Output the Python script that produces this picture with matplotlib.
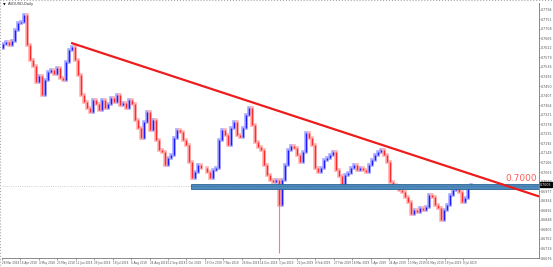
import matplotlib
matplotlib.use('Agg')
import matplotlib.pyplot as plt
import matplotlib.transforms as mtransforms
from matplotlib.patches import Rectangle
import numpy as np

closes = [0.7639, 0.7648, 0.7635, 0.7653, 0.7702, 0.7734, 0.7738, 0.7770, 0.7635, 0.7567,
          0.7540, 0.7468, 0.7495, 0.7410, 0.7477, 0.7513, 0.7522, 0.7504, 0.7531, 0.7486,
          0.7477, 0.7558, 0.7612, 0.7626, 0.7567, 0.7500, 0.7410, 0.7378, 0.7351, 0.7333,
          0.7387, 0.7369, 0.7342, 0.7387, 0.7351, 0.7369, 0.7396, 0.7378, 0.7410, 0.7365,
          0.7374, 0.7351, 0.7387, 0.7369, 0.7297, 0.7261, 0.7216, 0.7288, 0.7333, 0.7252,
          0.7297, 0.7207, 0.7162, 0.7153, 0.7095, 0.7126, 0.7140, 0.7216, 0.7252, 0.7243,
          0.7207, 0.7185, 0.7108, 0.7036, 0.7063, 0.7095, 0.7081, 0.7081, 0.7063, 0.7036,
          0.7072, 0.7081, 0.7207, 0.7252, 0.7230, 0.7185, 0.7261, 0.7288, 0.7230, 0.7221,
          0.7261, 0.7320, 0.7351, 0.7275, 0.7198, 0.7176, 0.7162, 0.7095, 0.7050, 0.7027,
          0.7018, 0.7027, 0.6915, 0.7027, 0.7095, 0.7162, 0.7180, 0.7171, 0.7140, 0.7108,
          0.7153, 0.7239, 0.7216, 0.7185, 0.7081, 0.7063, 0.7081, 0.7117, 0.7126, 0.7140,
          0.7153, 0.7072, 0.7045, 0.7009, 0.7050, 0.7059, 0.7081, 0.7095, 0.7072, 0.7081,
          0.7072, 0.7063, 0.7095, 0.7117, 0.7140, 0.7153, 0.7162, 0.7140, 0.7108, 0.7018,
          0.7005, 0.7000, 0.6982, 0.6973, 0.6951, 0.6928, 0.6874, 0.6892, 0.6883, 0.6901,
          0.6892, 0.6906, 0.6960, 0.6951, 0.6915, 0.6901, 0.6847, 0.6892, 0.6915, 0.6960,
          0.6982, 0.7000, 0.6973, 0.6928, 0.6946, 0.6991, 0.7005]
first_open = 0.7620
crash_index = 92
crash_low = 0.6698

# trendline anchors (bar index, price)
trend_start = (22.7, 0.7644)
trend_end = (178.7, 0.6953)

# support zone
zone_start = 62.7
zone_low = 0.6988
zone_high = 0.7010
level = 0.7000
last_price = 0.7005

date_labels = ['28 Mar 2018', '16 Apr 2018', '4 May 2018', '23 May 2018', '11 Jun 2018',
               '29 Jun 2018', '18 Jul 2018', '6 Aug 2018', '24 Aug 2018', '12 Sep 2018',
               '1 Oct 2018', '19 Oct 2018', '7 Nov 2018', '26 Nov 2018', '14 Dec 2018',
               '3 Jan 2019', '22 Jan 2019', '8 Feb 2019', '27 Feb 2019', '18 Mar 2019',
               '5 Apr 2019', '24 Apr 2019', '13 May 2019', '31 May 2019', '19 Jun 2019',
               '8 Jul 2019']

W, H = 553, 267
fig = plt.figure(figsize=(W / 100, H / 100), dpi=100)
ax = fig.add_axes([2 / W, 9 / H, 537 / W, 255 / H])

c = np.array(closes)
o = np.array([first_open] + closes[:-1])
x = np.arange(len(c))
up = c >= o
lo = np.minimum(o, c)
hi = np.maximum(o, c)

# light halos (shadows) then bodies
ax.vlines(x[up], lo[up], hi[up], color='#a9a9ff', lw=2.6, capstyle='projecting', zorder=2)
ax.vlines(x[~up], lo[~up], hi[~up], color='#ffb0b0', lw=2.6, capstyle='projecting', zorder=2)
ax.vlines(crash_index, crash_low, lo[crash_index], color='#ff7a7a', lw=0.8, zorder=2)
ax.vlines(x[up], lo[up], hi[up], color='#1c1cff', lw=1.0, zorder=3)
ax.vlines(x[~up], lo[~up], hi[~up], color='#ff2a2a', lw=1.0, zorder=3)

xmin, xmax = -0.33, 178.67
ax.set_xlim(xmin, xmax)
ax.set_ylim(0.6676, 0.78235)

# level line and zone
ax.axhline(level, color='#c0c0c0', ls=':', lw=0.6, zorder=1)
ax.add_patch(Rectangle((zone_start, zone_low), xmax - zone_start, zone_high - zone_low,
                       facecolor='#4f89bb', edgecolor='#2c6796', lw=0.6, zorder=4))
ax.plot([zone_start, xmax], [level, level], color='#2c6796', ls=':', lw=0.5, zorder=5)

# trendline
ax.plot([trend_start[0], trend_end[0]], [trend_start[1], trend_end[1]],
        color='#ee1c1c', lw=1.6, zorder=6, solid_capstyle='butt')

tr = mtransforms.blended_transform_factory(ax.transAxes, ax.transData)
ax.text(0.996, zone_high + 0.0004, '0.7000', transform=tr,
        ha='right', va='bottom', color='#ff5c5c', fontsize=6.5, zorder=7)

# axes styling
for s in ['top', 'left']:
    ax.spines[s].set_visible(False)
for s in ['right', 'bottom']:
    ax.spines[s].set_color('#777777')
    ax.spines[s].set_linewidth(0.6)

yt = [0.6676 + 0.0043 * k for k in range(27)]
ax.yaxis.tick_right()
ax.set_yticks(yt)
ax.set_yticklabels(['%.4f' % v for v in yt])
ax.tick_params(axis='y', labelsize=2.3, length=1.0, width=0.4, pad=0.5, colors='#555555')

xt = [(2 + 18.44 * k - 3) / 3 for k in range(len(date_labels))]
ax.set_xticks(xt)
ax.set_xticklabels(date_labels, ha='left')
ax.tick_params(axis='x', labelsize=2.0, length=1.2, width=0.4, pad=1, colors='#555555')

ax.text(1.002, last_price, '%.4f' % last_price, transform=tr, ha='left', va='center',
        fontsize=2.3, color='white', zorder=8,
        bbox=dict(boxstyle='square,pad=0.15', facecolor='black', edgecolor='black'))

fig.text(3 / W, 1 - 4.5 / H, '\u25bc', fontsize=2.5, color='black', va='center')
fig.text(8 / W, 1 - 4.5 / H, 'AUDUSD,Daily', fontsize=2.6, color='#333333', va='center')

fig.add_artist(Rectangle((0, 0), 1, 1, transform=fig.transFigure, fill=False,
                         edgecolor='#aaaaaa', ls=':', lw=0.8))

fig.savefig('out.png', dpi=100)
